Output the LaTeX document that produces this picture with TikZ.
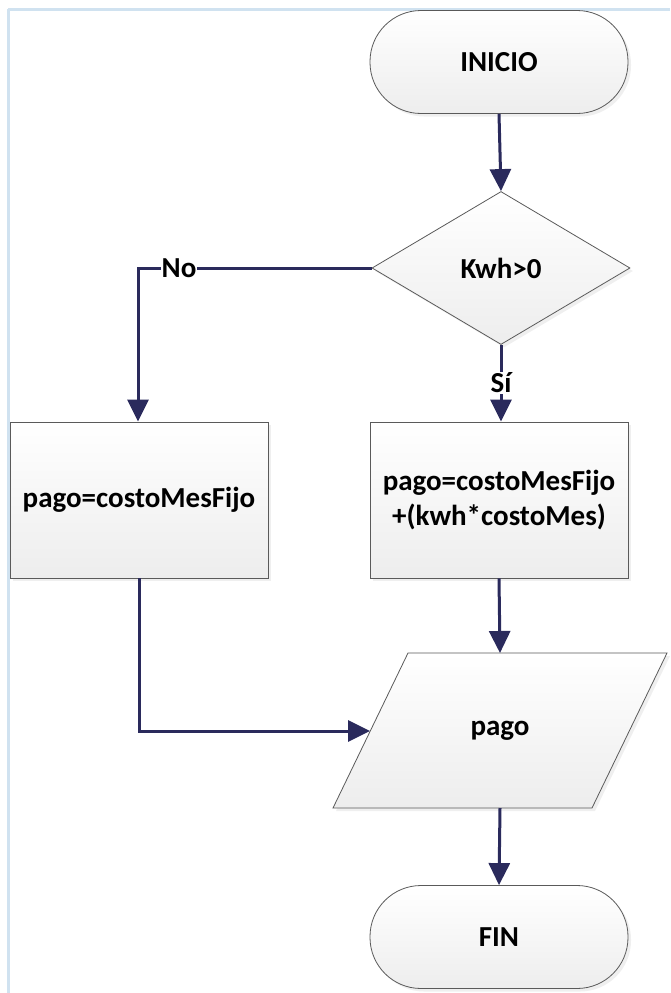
\documentclass[tikz,border=0pt]{standalone}
\usepackage{fontspec}
\setmainfont{Carlito}
\usetikzlibrary{shapes.geometric,arrows.meta,shadows}
\definecolor{flowline}{RGB}{42,42,92}
\definecolor{shapeline}{RGB}{90,90,90}
\definecolor{frameblue}{RGB}{208,226,240}
\tikzset{
  x=1pt,y=1pt,
  shapebase/.style={draw=shapeline, line width=0.8pt, top color=white, bottom color=black!7,
    drop shadow={opacity=0.12, shadow xshift=3pt, shadow yshift=-3pt},
    font=\fontsize{29}{35}\selectfont\bfseries, text=black, inner sep=0pt, align=center},
  term/.style={shapebase, rectangle, rounded corners=51pt, minimum width=258pt, minimum height=103pt},
  procbox/.style={shapebase, rectangle, minimum width=258pt, minimum height=156pt},
  decbox/.style={shapebase, diamond, minimum width=258pt, minimum height=153pt},
  flow/.style={draw=flowline, line width=3pt, -{Triangle[width=21pt,length=22pt]}},
  lbl/.style={fill=white, inner sep=1pt, font=\fontsize{29}{35}\selectfont\bfseries, text=black}
}
\begin{document}
\begin{tikzpicture}
\useasboundingbox (0,0) rectangle (670,-993);
\fill[white] (0,0) rectangle (670,-993);
% frame lines
\draw[frameblue, line width=3pt] (8,-9) -- (670,-9);
\draw[frameblue, line width=3pt] (8,-9) -- (8,-993);

% nodes
\node[term] (inicio) at (499,-62) {INICIO};
\node[decbox] (dec) at (501,-268) {Kwh>0};
\node[procbox] (lbox) at (139,-500) {pago=costoMesFijo};
\node[procbox] (rbox) at (499,-500) {pago=costoMesFijo\\+(kwh*costoMes)};
% parallelogram (output)
\coordinate (ptl) at (408,-653);
\coordinate (ptr) at (667,-653);
\coordinate (pbr) at (592,-808);
\coordinate (pbl) at (333,-808);
\path[shapebase] (ptl) -- (ptr) -- (pbr) -- (pbl) -- cycle;
\node[font=\fontsize{29}{35}\selectfont\bfseries, inner sep=0pt, minimum width=259pt, minimum height=155pt] (out) at (500,-730.5) {pago};
\coordinate (ptop) at (500,-653);
\coordinate (pbot) at (500,-808);
\coordinate (pleft) at (370,-731);
\node[term] (fin) at (499,-937) {FIN};

% connectors
\draw[flow] (inicio.south) -- (dec.north);
\coordinate (nocorner) at (138,-268);
\draw[flow] (dec.west) -- (nocorner) -- (nocorner |- lbox.north);
\node[lbl] (nolbl) at (179,-268) {No};
\draw[flow] (dec.south) -- (dec.south |- rbox.north);
\node[lbl] (silbl) at (501,-383) {Sí};
\draw[flow] (rbox.south) -- (ptop);
\draw[flow] (lbox.south) |- (pleft);
\draw[flow] (pbot) -- (fin.north);
\end{tikzpicture}
\end{document}
